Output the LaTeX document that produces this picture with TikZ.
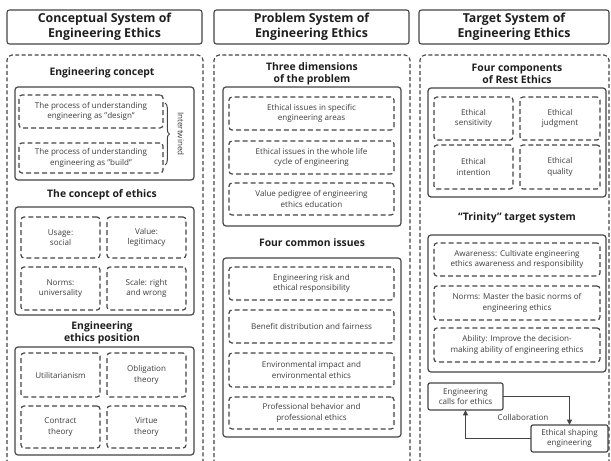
\documentclass[tikz,border=0pt]{standalone}
\usepackage{fontspec}
\setmainfont{Open Sans}
\usetikzlibrary{decorations.pathreplacing,arrows.meta}
\definecolor{ln}{HTML}{444444}
\definecolor{tx}{HTML}{3C3C3C}
\definecolor{tt}{HTML}{1E1E1E}
\tikzset{
  base/.style={inner sep=0pt, outer sep=0pt, align=center},
  hdr/.style={base, draw=ln, line width=1.1pt, rounded corners=2.5pt, font=\bfseries\fontsize{12.4}{15}\selectfont, text=tt},
  frame/.style={draw=ln, dash pattern=on 4pt off 2.5pt, line width=1.1pt, rounded corners=5pt},
  grp/.style={base, draw=ln, line width=1.2pt, rounded corners=3pt},
  item/.style={base, draw=ln, dash pattern=on 5pt off 3pt, line width=1.2pt, rounded corners=3pt, font=\fontsize{8.1}{10.5}\selectfont, text=tx},
  ttl/.style={base, font=\bfseries\fontsize{10.4}{12.5}\selectfont, text=tt},
  sbox/.style={base, draw=ln, line width=1.2pt, rounded corners=2pt, font=\fontsize{8.1}{10.5}\selectfont, text=tx},
  lbl/.style={base, font=\fontsize{8.1}{10.5}\selectfont, text=tx},
  arr/.style={draw=ln, line width=1.1pt, -{Triangle[length=5.5pt,width=5pt]}}
}
\newcommand\bx[7]{\node[#6, minimum width={(#4-#2)*1bp}, minimum height={(#5-#3)*1bp}] (#1) at ({(#2+#4)/2},{(#3+#5)/2}) {#7};}
\begin{document}
\begin{tikzpicture}[x=1bp,y=-1bp]
\useasboundingbox (0,0) rectangle (611,461);
% ---------- Column 1 ----------
\bx{h1}{7}{10}{202}{44}{hdr}{Conceptual System of\\Engineering Ethics}
\draw[frame] (7,470) -- (7,55) -- (203,55) -- (203,470);
\node[ttl] (t11) at (102,73) {Engineering concept};
\bx{g11}{15}{87}{194}{180}{grp}{}
\bx{a1}{19}{95}{163}{128}{item}{The process of understanding\\engineering as "design"}
\bx{a2}{19}{143}{163}{173}{item}{The process of understanding\\engineering as "build"}
\coordinate (bt) at (165,103);
\coordinate (bb) at (165,165);
\draw[draw=ln, line width=1pt, decorate, decoration={brace, amplitude=4.5bp}] (bt) -- (bb);
\node[lbl, rotate=-90] (iw) at (181,134) {Intertwined};
\node[ttl] (t12) at (102,195) {The concept of ethics};
\bx{g12}{15}{207}{194}{315}{grp}{}
\bx{c1}{21}{217}{100}{258}{item}{Usage:\\social}
\bx{c2}{107}{217}{186}{258}{item}{Value:\\legitimacy}
\bx{c3}{21}{267}{100}{310}{item}{Norms:\\universality}
\bx{c4}{107}{267}{186}{310}{item}{Scale: right\\and wrong}
\node[ttl] (t13) at (102,333) {Engineering\\ethics position};
\bx{g13}{15}{347}{194}{455}{grp}{}
\bx{d1}{21}{353}{100}{397}{item}{Utilitarianism}
\bx{d2}{107}{353}{186}{397}{item}{Obligation\\theory}
\bx{d3}{21}{406}{100}{448}{item}{Contract\\theory}
\bx{d4}{107}{406}{186}{448}{item}{Virtue\\theory}
% ---------- Column 2 ----------
\bx{h2}{214}{10}{409}{44}{hdr}{Problem System of\\Engineering Ethics}
\draw[frame] (214,470) -- (214,55) -- (410,55) -- (410,470);
\node[ttl] (t21) at (312,74) {Three dimensions\\of the problem};
\bx{g21}{223}{87}{401}{226}{grp}{}
\bx{e1}{229}{97}{394}{130}{item}{Ethical issues in specific\\engineering areas}
\bx{e2}{229}{141}{394}{174}{item}{Ethical issues in the whole life\\cycle of engineering}
\bx{e3}{229}{183}{394}{215}{item}{Value pedigree of engineering\\ethics education}
\node[ttl] (t22) at (312,243) {Four common issues};
\bx{g22}{223}{258}{401}{437}{grp}{}
\bx{f1}{229}{267}{394}{300}{item}{Engineering risk and\\ethical responsibility}
\bx{f2}{229}{310}{394}{343}{item}{Benefit distribution and fairness}
\bx{f3}{229}{353}{394}{387}{item}{Environmental impact and\\environmental ethics}
\bx{f4}{229}{397}{394}{429}{item}{Professional behavior and\\professional ethics}
% ---------- Column 3 ----------
\bx{h3}{419}{10}{609}{44}{hdr}{Target System of\\Engineering Ethics}
\draw[frame] (420,470) -- (420,55) -- (609,55) -- (609,470);
\node[ttl] (t31) at (517,74) {Four components\\of Rest Ethics};
\bx{g31}{428}{88}{606}{197}{grp}{}
\bx{k1}{434}{97}{513}{140}{item}{Ethical\\sensitivity}
\bx{k2}{520}{97}{600}{140}{item}{Ethical\\judgment}
\bx{k3}{434}{145}{513}{189}{item}{Ethical\\intention}
\bx{k4}{520}{145}{600}{189}{item}{Ethical\\quality}
\node[ttl] (t32) at (517,218) {“Trinity” target system};
\bx{g32}{428}{235}{606}{372}{grp}{}
\bx{m1}{434}{243}{600}{276}{item}{Awareness: Cultivate engineering\\ethics awareness and responsibility}
\bx{m2}{434}{286}{600}{320}{item}{Norms: Master the basic norms of\\engineering ethics}
\bx{m3}{434}{328}{600}{362}{item}{Ability: Improve the decision-\\making ability of engineering ethics}
\bx{calls}{428}{383}{503}{410}{sbox}{Engineering\\calls for ethics}
\bx{shape}{531}{425}{608}{452}{sbox}{Ethical shaping\\engineering}
\draw[arr] (calls.east) -| (shape.north);
\draw[arr] (shape.west) -| (calls.south);
\node[lbl] (col) at (523,417) {Collaboration};
\end{tikzpicture}
\end{document}
